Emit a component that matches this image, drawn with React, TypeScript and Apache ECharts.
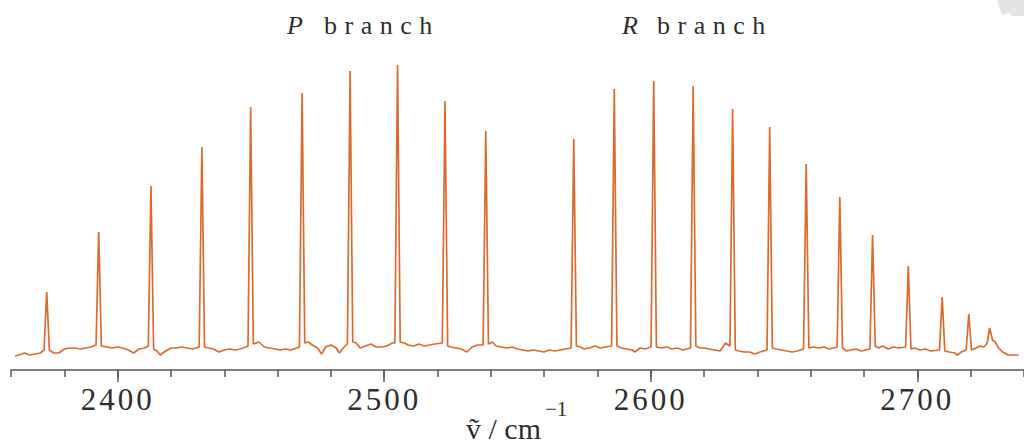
import React, { useEffect, useRef } from "react";
import * as echarts from "echarts";

// Baseline samples of the spectrum: [wavenumber (cm^-1), intensity]
const baseline: [number, number][] = [
  [2361.5, 14], [2363, 15], [2365, 17], [2367, 15], [2369, 16], [2371, 17], [2372.4, 20],
  [2374.4, 20], [2376, 17], [2378, 17], [2380, 21], [2382, 22], [2384, 22], [2386, 21], [2388, 22], [2390, 23], [2391.9, 25],
  [2393.9, 24], [2396, 23], [2398, 22], [2400, 23], [2402, 22], [2404, 20], [2406, 17], [2408, 21], [2410, 22], [2411.5, 24],
  [2413.5, 21], [2414.8, 19], [2416, 15], [2418, 19], [2420, 22], [2422, 22], [2424, 23], [2426, 22], [2428, 21], [2430.6, 23],
  [2432.6, 23], [2434, 22], [2436, 21], [2438, 18], [2440, 20], [2442, 21], [2444, 20], [2446, 21], [2448.9, 24],
  [2450.9, 26], [2453, 28], [2455, 23], [2457, 22], [2459, 21], [2461, 20], [2463, 21], [2465, 20], [2468.2, 23],
  [2470.2, 27], [2471.6, 28], [2473, 25], [2475, 22], [2476.5, 16], [2478, 23], [2480, 25], [2482, 22], [2483.2, 17], [2484.6, 22], [2486.2, 26],
  [2488.2, 28], [2489.5, 27], [2491, 22], [2493, 24], [2495, 26], [2497, 23], [2499, 23], [2501, 24], [2503, 27], [2504, 27],
  [2506, 28], [2507.5, 27], [2509, 25], [2511, 24], [2513, 26], [2515, 24], [2517, 25], [2519, 26], [2521.8, 27],
  [2523.8, 24], [2525, 23], [2527, 22], [2529, 21], [2531, 18], [2533, 23], [2535, 25], [2537.1, 25],
  [2539.1, 26], [2540.5, 28], [2542, 24], [2544, 23], [2546, 22], [2548, 23], [2550, 21], [2552, 20], [2554, 19], [2556, 20],
  [2558, 19], [2560, 18], [2562, 20], [2564, 19], [2566, 20], [2568, 21], [2570.1, 22],
  [2572.1, 24], [2573.6, 23], [2575, 21], [2577, 22], [2579, 24], [2581, 22], [2583, 23], [2585.3, 24],
  [2587.3, 24], [2589, 22], [2591, 21], [2593, 20], [2594, 18], [2596, 22], [2598, 21], [2600.1, 23],
  [2602.1, 23], [2604, 22], [2606, 23], [2608, 21], [2610, 22], [2612, 20], [2614.9, 22],
  [2616.9, 24], [2618.5, 22], [2620, 22], [2622, 21], [2624, 20], [2626, 19], [2628, 27], [2629.7, 24],
  [2631.7, 20], [2633, 19], [2635, 18], [2637, 18], [2639, 16], [2641, 18], [2643.6, 20],
  [2645.6, 22], [2647, 21], [2649, 20], [2651, 19], [2653, 18], [2655, 19], [2657.3, 21],
  [2659.3, 22], [2661, 23], [2663, 22], [2665, 23], [2667, 21], [2669.9, 23],
  [2671.9, 22], [2673.5, 19], [2675, 20], [2677, 21], [2679, 19], [2682.2, 21],
  [2684.2, 24], [2685.5, 22], [2687, 24], [2689, 21], [2691, 23], [2693, 22], [2695.6, 23],
  [2697.6, 21], [2699, 22], [2701, 20], [2703, 21], [2705, 19], [2708.3, 20],
  [2710.3, 19], [2712, 18], [2714, 17], [2715, 15], [2716.5, 18], [2718.3, 20],
  [2720.3, 20], [2722, 22], [2723.5, 24], [2725, 23], [2726.2, 27],
  [2728.2, 30], [2729.2, 28], [2730.5, 22], [2732, 18], [2734, 15], [2736, 15], [2738, 15],
];

// Rotational lines: P branch then R branch
const peakCenters = [
  2373.4, 2392.9, 2412.5, 2431.6, 2449.9, 2469.2, 2487.2, 2505.0, 2522.8, 2538.1,
  2571.1, 2586.3, 2601.1, 2615.9, 2630.7, 2644.6, 2658.3, 2670.9, 2683.2, 2696.6, 2709.3, 2719.3, 2727.1,
];
const peakHeights = [
  78, 138, 184, 223, 263, 277, 299, 305, 269, 239,
  231, 281, 289, 284, 261, 243, 206, 173, 135, 104, 73, 56, 42,
];

const majorTicks = [2400, 2500, 2600, 2700];

const LINE_COLOR = "#DC6A2C";
const TEXT_COLOR = "#2e2e2e";
const SERIF = "Liberation Serif, serif";

export default function App() {
  const ref = useRef<HTMLDivElement>(null);

  useEffect(() => {
    if (!ref.current) return;
    const el = ref.current;
    const chart = echarts.init(el, undefined, { renderer: "svg" });

    const data = baseline
      .concat(peakCenters.map((c, i) => [c, peakHeights[i]] as [number, number]))
      .sort((a, b) => a[0] - b[0]);

    const commonAxis = {
      type: "value" as const,
      min: 2360,
      max: 2740,
      interval: 20,
      position: "bottom" as const,
      splitLine: { show: false },
    };

    chart.setOption({
      animation: false,
      backgroundColor: "#ffffff",
      grid: { left: 11, right: -10, top: 50, bottom: 77 },
      xAxis: [
        {
          ...commonAxis,
          axisLine: { show: true, lineStyle: { color: "#555555", width: 1.5 } },
          axisTick: { show: true, length: 7, lineStyle: { color: "#555555", width: 1.5 } },
          axisLabel: { show: false },
        },
        {
          ...commonAxis,
          axisLine: { show: false },
          axisTick: {
            show: true,
            length: 12,
            customValues: majorTicks,
            lineStyle: { color: "#555555", width: 1.5 },
          },
          axisLabel: {
            show: true,
            customValues: majorTicks,
            formatter: (v: number) => String(v),
            margin: 14,
            color: TEXT_COLOR,
            fontFamily: SERIF,
            fontSize: 31,
          },
        },
      ],
      yAxis: {
        type: "value",
        min: 0,
        max: 320,
        show: false,
      },
      series: [
        {
          type: "line",
          xAxisIndex: 0,
          data,
          showSymbol: false,
          symbol: "none",
          lineStyle: { color: LINE_COLOR, width: 1.7 },
          clip: true,
        },
      ],
      graphic: [
        {
          type: "polygon",
          shape: { points: [[997, 0], [1024, 0], [1024, 16], [1012, 16], [1010, 13], [1002, 15]] },
          style: { fill: "#e4e4e4" },
          silent: true,
        },
        {
          type: "text",
          x: 287,
          y: 25,
          style: { text: "P", fontFamily: SERIF, fontStyle: "italic", fontSize: 26, fill: TEXT_COLOR, align: "left", verticalAlign: "middle" },
        },
        {
          type: "text",
          x: 324,
          y: 25,
          style: { text: "branch", fontFamily: SERIF, fontSize: 26, fill: TEXT_COLOR, align: "left", verticalAlign: "middle" },
        },
        {
          type: "text",
          x: 622,
          y: 25,
          style: { text: "R", fontFamily: SERIF, fontStyle: "italic", fontSize: 26, fill: TEXT_COLOR, align: "left", verticalAlign: "middle" },
        },
        {
          type: "text",
          x: 657,
          y: 25,
          style: { text: "branch", fontFamily: SERIF, fontSize: 26, fill: TEXT_COLOR, align: "left", verticalAlign: "middle" },
        },
        {
          type: "text",
          x: 466,
          y: 428,
          style: { text: "v\u0303 / cm", fontFamily: SERIF, fontSize: 30, fill: TEXT_COLOR, align: "left", verticalAlign: "middle" },
        },
        {
          type: "text",
          x: 545,
          y: 409,
          style: { text: "\u22121", fontFamily: SERIF, fontSize: 21, fill: TEXT_COLOR, align: "left", verticalAlign: "middle" },
        },
      ],
    });

    const applySpacing = () => {
      el.querySelectorAll("text").forEach((t) => {
        const s = (t.textContent || "").trim();
        if (/^\d{4}$/.test(s)) t.style.letterSpacing = "3px";
        else if (s === "branch") t.style.letterSpacing = "7.5px";
      });
    };
    applySpacing();
    chart.on("finished", applySpacing);

    return () => {
      chart.dispose();
    };
  }, []);

  return (
    <div
      ref={ref}
      style={{ position: "fixed", left: 0, top: 0, width: 1024, height: 447, background: "#fff" }}
    />
  );
}
